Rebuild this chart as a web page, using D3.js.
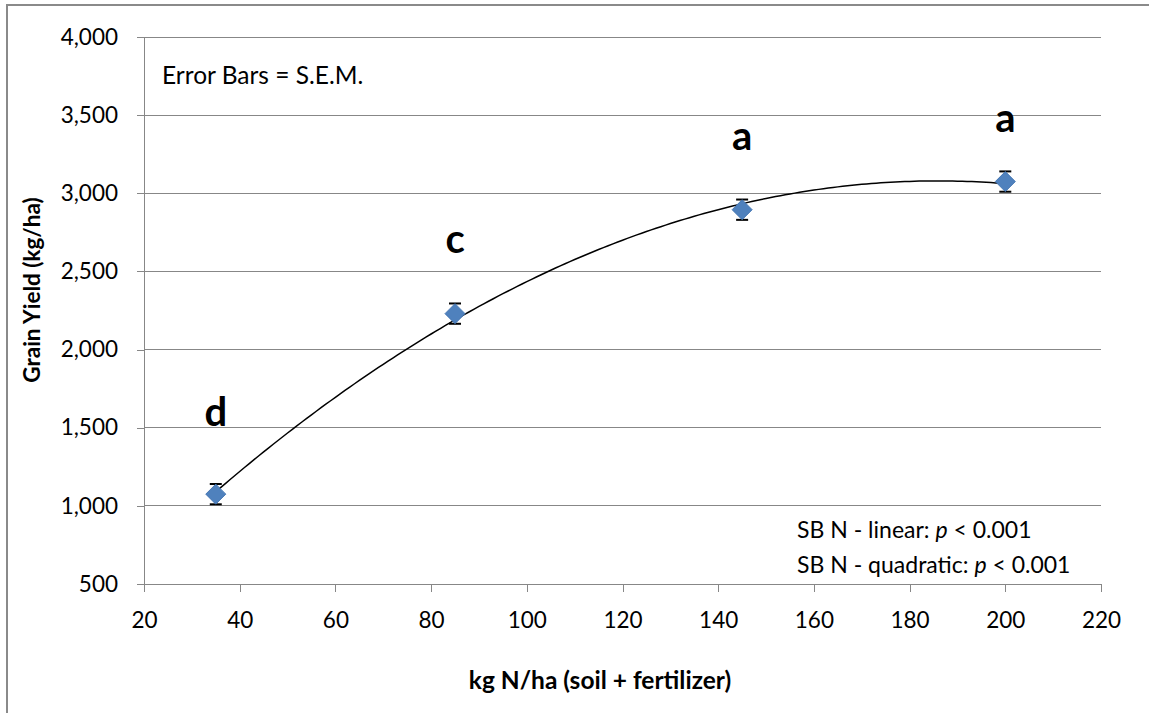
<!DOCTYPE html>
<meta charset="utf-8">
<style>
body { margin: 0; background: #fff; }
svg { display: block; font-family: Lato, "Open Sans", sans-serif; }
.grid line { stroke: #878787; stroke-width: 1px; shape-rendering: crispEdges; }
.axis path, .axis line { stroke: #878787; stroke-width: 1px; shape-rendering: crispEdges; fill: none; }
.axis text { font-family: Lato, "Open Sans", sans-serif; font-size: 22.5px; fill: #000; }
.trend { fill: none; stroke: #000; stroke-width: 1.5px; }
.err line { stroke: #000; stroke-width: 2px; }
.sig { font-size: 40px; font-weight: bold; text-anchor: middle; }
</style>
<body>
<div id="chart"></div>
<script src="https://cdn.jsdelivr.net/npm/d3@7"></script>
<script>
// data
var nRates = [35, 85, 145, 200];
var grainYield = [1075, 2230, 2895, 3075];
var sem = [65, 65, 65, 65];
var sigLetters = ["d", "c", "a", "a"];
var xTicks = [20, 40, 60, 80, 100, 120, 140, 160, 180, 200, 220];
var yTicks = [500, 1000, 1500, 2000, 2500, 3000, 3500, 4000];

var W = 1149, H = 713;
var margin = { top: 37, right: 48, bottom: 129, left: 144 };
var width = W - margin.left - margin.right,
    height = H - margin.top - margin.bottom;

var svg = d3.select("#chart").append("svg")
    .attr("width", W)
    .attr("height", H);

// outer chart frame
svg.append("rect")
    .attr("x", 7).attr("y", 5)
    .attr("width", W + 10).attr("height", H + 10)
    .attr("fill", "none")
    .attr("stroke", "#8a8a8a")
    .attr("stroke-width", 2);

var g = svg.append("g")
    .attr("transform", "translate(" + margin.left + "," + margin.top + ")");

var x = d3.scaleLinear().domain([20, 220]).range([0, width]);
var y = d3.scaleLinear().domain([500, 4000]).range([height, 0]);

// horizontal gridlines
g.append("g").attr("class", "grid")
    .selectAll("line")
    .data(yTicks.slice(1))
    .enter().append("line")
    .attr("x1", 0).attr("x2", width)
    .attr("y1", function(d) { return y(d); })
    .attr("y2", function(d) { return y(d); });

g.append("g")
    .attr("class", "axis")
    .attr("transform", "translate(0," + height + ")")
    .call(d3.axisBottom(x).tickValues(xTicks).tickSizeInner(8).tickSizeOuter(8).tickPadding(20))
    .selectAll("text").attr("dy", "0.71em");

g.append("g")
    .attr("class", "axis")
    .call(d3.axisLeft(y).tickValues(yTicks).tickFormat(d3.format(",")).tickSizeInner(7).tickSizeOuter(0).tickPadding(19));

// quadratic trendline (least squares, like the spreadsheet trendline)
function quadFit(xs, ys) {
    var s = [0, 0, 0, 0, 0], t = [0, 0, 0];
    xs.forEach(function(xv, i) {
        for (var k = 0; k < 5; k++) s[k] += Math.pow(xv, k);
        for (var k2 = 0; k2 < 3; k2++) t[k2] += ys[i] * Math.pow(xv, k2);
    });
    var M = [[s[0], s[1], s[2], t[0]], [s[1], s[2], s[3], t[1]], [s[2], s[3], s[4], t[2]]];
    for (var i = 0; i < 3; i++) {
        for (var j = i + 1; j < 3; j++) {
            var f = M[j][i] / M[i][i];
            for (var c = i; c < 4; c++) M[j][c] -= f * M[i][c];
        }
    }
    var coef = [0, 0, 0];
    for (var i2 = 2; i2 >= 0; i2--) {
        var v = M[i2][3];
        for (var c2 = i2 + 1; c2 < 3; c2++) v -= M[i2][c2] * coef[c2];
        coef[i2] = v / M[i2][i2];
    }
    return coef;
}
var cf = quadFit(nRates, grainYield);
var curveX = d3.range(nRates[0], nRates[nRates.length - 1] + 0.5, 1);
g.append("path")
    .datum(curveX)
    .attr("class", "trend")
    .attr("d", d3.line()
        .x(function(d) { return x(d); })
        .y(function(d) { return y(cf[0] + cf[1] * d + cf[2] * d * d); }));

var pts = nRates.map(function(d, i) {
    return { x: d, y: grainYield[i], e: sem[i], lab: sigLetters[i] };
});

// error bars
var err = g.append("g").attr("class", "err")
    .selectAll("g").data(pts).enter().append("g");
err.append("line")
    .attr("x1", function(d) { return x(d.x); })
    .attr("x2", function(d) { return x(d.x); })
    .attr("y1", function(d) { return y(d.y - d.e); })
    .attr("y2", function(d) { return y(d.y + d.e); })
    .style("stroke-width", "1.5px");
[-1, 1].forEach(function(s) {
    err.append("line")
        .attr("x1", function(d) { return x(d.x) - 6; })
        .attr("x2", function(d) { return x(d.x) + 6; })
        .attr("y1", function(d) { return y(d.y + s * d.e); })
        .attr("y2", function(d) { return y(d.y + s * d.e); });
});

// diamond markers
g.selectAll(".pt").data(pts).enter().append("path")
    .attr("class", "pt")
    .attr("transform", function(d) { return "translate(" + x(d.x) + "," + y(d.y) + ")"; })
    .attr("d", "M0,-10L10,0L0,10L-10,0Z")
    .attr("fill", "#4f81bd")
    .attr("stroke", "#4577b4")
    .attr("stroke-width", 1);

// significance letters
var labDy = [68, 61, 60, 50];
g.selectAll(".sig").data(pts).enter().append("text")
    .attr("class", "sig")
    .attr("x", function(d) { return x(d.x); })
    .attr("y", function(d, i) { return y(d.y) - labDy[i]; })
    .text(function(d) { return d.lab; });

// annotations
svg.append("text")
    .attr("x", 162).attr("y", 84)
    .style("font-size", "24.5px")
    .text("Error Bars = S.E.M.");

var stats = [["SB N - linear: ", "p", " < 0.001"], ["SB N - quadratic: ", "p", " < 0.001"]];
stats.forEach(function(s, i) {
    var t = svg.append("text")
        .attr("x", 797).attr("y", 538 + i * 35)
        .style("font-size", "23px");
    t.append("tspan").text(s[0]);
    t.append("tspan").style("font-style", "italic").text(s[1]);
    t.append("tspan").text(s[2]);
});

// axis titles
svg.append("text")
    .attr("x", 600).attr("y", 689)
    .attr("text-anchor", "middle")
    .style("font-size", "24.5px").style("font-weight", "bold")
    .text("kg N/ha (soil + fertilizer)");

svg.append("text")
    .attr("transform", "translate(40,290) rotate(-90)")
    .attr("text-anchor", "middle")
    .style("font-size", "22.5px").style("font-weight", "bold")
    .text("Grain Yield (kg/ha)");
</script>
</body>
